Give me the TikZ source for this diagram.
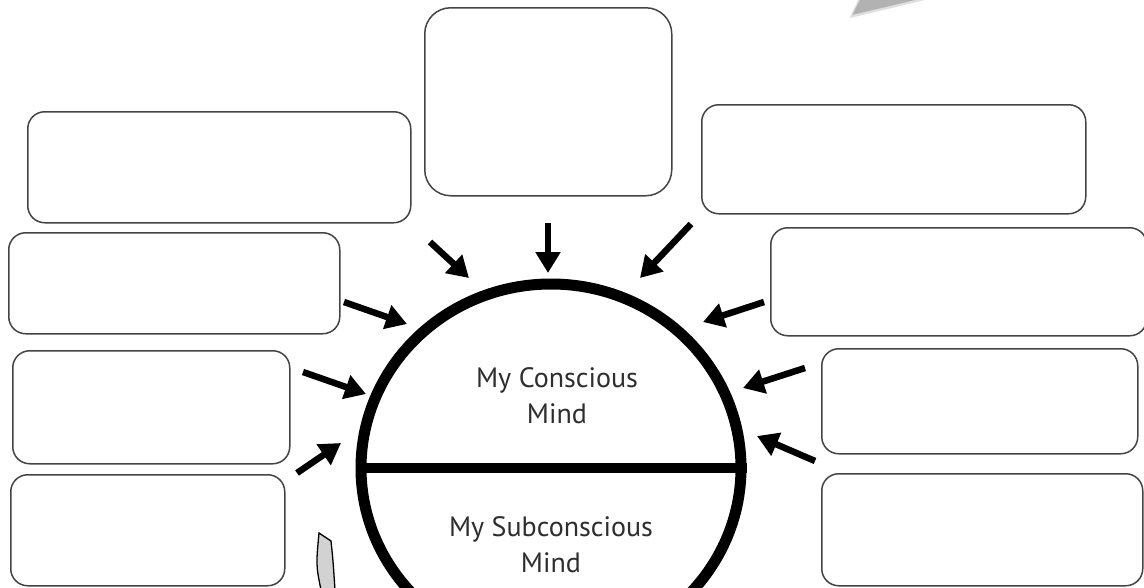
\documentclass[tikz,border=0pt]{standalone}
\usepackage{fontspec}
\setmainfont{PT Sans}
\usetikzlibrary{shapes, arrows.meta, calc, positioning}

\definecolor{boxline}{HTML}{444444}
\definecolor{textgray}{HTML}{2E2E2E}

\tikzset{
    box/.style={draw=boxline, line width=1.5pt, rounded corners=17pt, inner sep=0pt, anchor=north west},
    inarrow/.style={line width=6.5pt, -{Triangle[length=21pt, width=24pt]}},
    minds/.style={text=textgray, align=center, font=\fontsize{28}{36}\selectfont}
}

\begin{document}
\begin{tikzpicture}[x=1pt, y=-1pt]
        % Page
        \clip (0,0) rectangle (1144,587);
        \fill[white] (0,0) rectangle (1144,587);

        % Boxes, left side
        \node[box, minimum width=383pt, minimum height=111pt] (lone) at (27,111) {};
        \node[box, minimum width=331pt, minimum height=101pt] (ltwo) at (8,232) {};
        \node[box, minimum width=277pt, minimum height=113pt] (lthree) at (12,350) {};
        \node[box, minimum width=274pt, minimum height=111pt] (lfour) at (10,474) {};

        % Box, top
        \node[box, rounded corners=26pt, minimum width=247pt, minimum height=188pt] (top) at (424,7) {};

        % Boxes, right side
        \node[box, minimum width=384pt, minimum height=109pt] (rone) at (701,104) {};
        \node[box, minimum width=376pt, minimum height=108pt] (rtwo) at (770,227) {};
        \node[box, minimum width=316pt, minimum height=105pt] (rthree) at (821,348) {};
        \node[box, minimum width=321pt, minimum height=112pt] (rfour) at (821,473) {};

        % Mind
        \node[ellipse, draw, line width=11pt, inner sep=0pt,
              minimum width=380pt, minimum height=368pt] (mind) at (551,468) {};
        \draw[line width=10pt] (mind.west) -- (mind.east);
        \node[minds, anchor=base] (conscious) at (557,423) {My Conscious\\Mind};
        \node[minds, anchor=base] (subconscious) at (551,572) {My Subconscious\\Mind};

        % Arrows into the mind
        \coordinate (t1) at (430,242); \coordinate (h1) at (469,278);
        \coordinate (t2) at (548,223); \coordinate (h2) at (548,273);
        \coordinate (t3) at (691,224); \coordinate (h3) at (640,278);
        \coordinate (t4) at (344,302); \coordinate (h4) at (407,324);
        \coordinate (t5) at (764,302); \coordinate (h5) at (703,322);
        \coordinate (t6) at (303,372); \coordinate (h6) at (366,394);
        \coordinate (t7) at (805,368); \coordinate (h7) at (743,388);
        \coordinate (t8) at (297,473); \coordinate (h8) at (341,443);
        \coordinate (t9) at (815,461); \coordinate (h9) at (757,436);
        \foreach \i in {1,...,9}
            \draw[inarrow] (t\i) -- (h\i);

        % Grey arrow, top right
        \fill[gray!25] (850,18) -- (858,0) -- (925,0) -- cycle;
        \fill[gray!60] (852,15) -- (860,0) -- (915,0) -- cycle;

        % Grey arrow, bottom left
        \filldraw[fill=gray!35, draw=black, line width=1.3pt]
            (319,533) -- (331,541) .. controls (333,560) .. (335,590)
            -- (321,590) .. controls (316,565) .. (319,533) -- cycle;

    \end{tikzpicture}
\end{document}
